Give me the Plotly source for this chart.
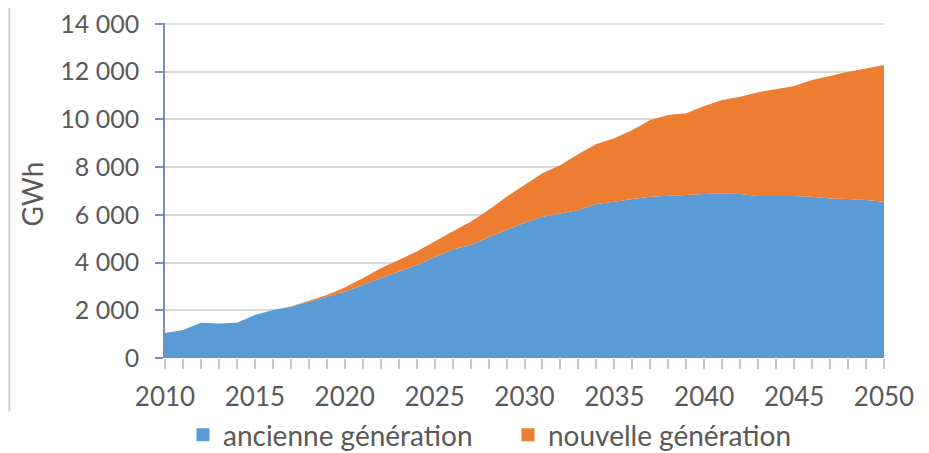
import plotly.graph_objects as go

years = list(range(2010, 2051))
ancienne = [1050, 1170, 1480, 1450, 1480, 1800, 2010, 2150, 2360, 2570,
            2780, 3060, 3340, 3620, 3900, 4220, 4550, 4740, 5060, 5370,
            5670, 5920, 6060, 6200, 6450, 6550, 6660, 6760, 6800, 6830,
            6870, 6900, 6870, 6790, 6790, 6790, 6760, 6690, 6660, 6620,
            6550]
total = [1050, 1170, 1480, 1450, 1480, 1800, 2010, 2160, 2400, 2640,
         2960, 3340, 3760, 4110, 4460, 4880, 5300, 5710, 6200, 6760,
         7250, 7740, 8090, 8550, 8970, 9210, 9560, 9980, 10190, 10260,
         10560, 10810, 10950, 11140, 11260, 11400, 11650, 11820, 12000, 12140,
         12280]
nouvelle = [t - a for t, a in zip(total, ancienne)]
series_names = ["ancienne génération", "nouvelle génération"]

y_ticks = [0, 2000, 4000, 6000, 8000, 10000, 12000, 14000]
x_ticks = [2010, 2015, 2020, 2025, 2030, 2035, 2040, 2045, 2050]
y_range = [0, 14042]

BLUE = "#5b9bd5"
ORANGE = "#ed7d31"
TXT = "#595959"
GRID = "#d9d9d9"
FONT = "Lato"

fig = go.Figure()
for name, vals, col in [(series_names[0], ancienne, BLUE), (series_names[1], nouvelle, ORANGE)]:
    fig.add_trace(go.Scatter(x=years, y=vals, name=name, stackgroup="one",
                             mode="none", fillcolor=col, line=dict(width=0),
                             showlegend=False, legendgroup=name))
for name, col in [(series_names[0], BLUE), (series_names[1], ORANGE)]:
    fig.add_trace(go.Scatter(x=[None], y=[None], name=name, mode="markers",
                             marker=dict(symbol="square", size=13, color=col),
                             showlegend=True, legendgroup=name))

# page body has an 8px margin: figure is drawn 8px right/down of the page origin
fig.update_layout(
    width=921, height=445,
    margin=dict(l=157, r=45, t=15, b=95, autoexpand=False),
    paper_bgcolor="white", plot_bgcolor="white",
    separators=", ",
    font=dict(family=FONT, color=TXT),
    showlegend=True,
    legend=dict(orientation="h", x=0.025, xanchor="left", y=-0.230, yanchor="middle",
                font=dict(size=28, color=TXT), traceorder="normal",
                entrywidth=280, entrywidthmode="pixels", bgcolor="rgba(0,0,0,0)"),
    xaxis=dict(range=[2010, 2050], tickvals=x_ticks, ticks="outside", ticklen=10,
               tickcolor="#c8c8c8", tickwidth=1.5, showgrid=False, zeroline=False,
               showline=False, tickfont=dict(size=26, color=TXT),
               ticklabelstandoff=6, automargin=False, ticklabeloverflow="allow",
               minor=dict(dtick=1, tick0=2010, ticks="outside", ticklen=10,
                          tickcolor="#c8c8c8", tickwidth=1.5, showgrid=False)),
    yaxis=dict(range=y_range, tickvals=y_ticks, tickformat=",d",
               ticks="outside", ticklen=8, tickcolor="#7d8ac4", tickwidth=1.5,
               showline=True, linecolor="#7d8ac4", linewidth=1.5,
               gridcolor=GRID, gridwidth=1.5, zeroline=False, automargin=False,
               ticklabeloverflow="allow",
               tickfont=dict(size=25, color=TXT), ticklabelstandoff=11),
)

# top gridline at the last y tick, positioned from the axis range
top_frac = y_ticks[-1] / y_range[1]
fig.add_shape(type="line", xref="paper", yref="paper", x0=0, x1=1,
              y0=top_frac, y1=top_frac, line=dict(color=GRID, width=1.5))

fig.add_annotation(text="GWh", xref="paper", yref="paper", x=-0.185, y=0.491,
                   xanchor="center", yanchor="middle", textangle=-90,
                   showarrow=False, font=dict(size=28, color=TXT, family=FONT))

fig.add_shape(type="line", xref="paper", yref="paper", x0=-0.2165, x1=-0.2165,
              y0=1.1, y1=-0.16, line=dict(color="#cfcfcf", width=2))

fig.write_html("out.html")
